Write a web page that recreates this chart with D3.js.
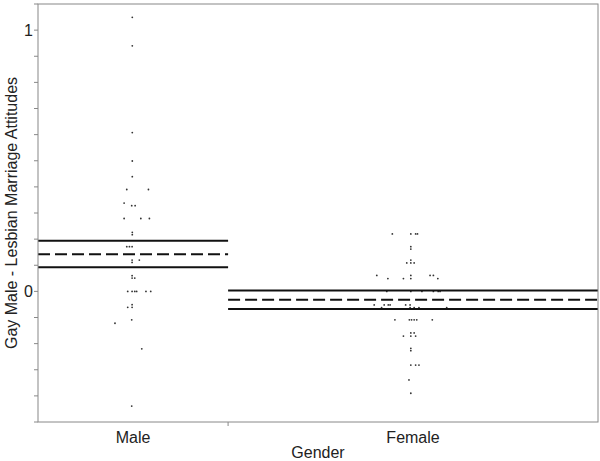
<!DOCTYPE html>
<html>
<head>
<meta charset="utf-8">
<script src="https://cdn.jsdelivr.net/npm/d3@7"></script>
<style>
  body { margin: 0; background: #fff; }
  text { font-family: "Liberation Sans", Arial, sans-serif; fill: #222; }
</style>
</head>
<body>
<div id="chart"></div>
<script>
// Groups and their width weights on the x axis
const groups = ['Male', 'Female'];
const groupWeights = [37, 72];

// Mean and 95% interval per group
const groupMeans = [0.142, -0.032];
const groupUpper = [0.194, 0.003];
const groupLower = [0.092, -0.067];

// Male observations and horizontal jitter (fraction of band)
const maleValues = [1.049, 0.940, 0.608, 0.499, 0.439, 0.390, 0.390, 0.338, 0.328, 0.328,
    0.279, 0.279, 0.279, 0.226, 0.217, 0.171, 0.171, 0.171, 0.120, 0.120, 0.111,
    0.060, 0.051, 0.051, 0, 0, 0, 0, 0, 0, -0.051, -0.061, -0.061, -0.109, -0.122,
    -0.220, -0.439];
const maleJitter = [-0.004, -0.004, -0.004, -0.004, -0.004, -0.033, 0.081, -0.047, -0.007, 0.011,
    -0.047, 0.041, 0.086, -0.004, -0.004, -0.033, -0.019, -0.005, -0.005, 0.033, -0.005,
    -0.005, -0.005, 0.009, -0.028, -0.005, 0.009, 0.019, 0.068, 0.093, -0.005, -0.005, -0.028, -0.007, -0.095,
    0.046, -0.007];

// Female observations and horizontal jitter (fraction of band)
const femaleValues = [0.220, 0.220, 0.220, 0.220, 0.171, 0.162, 0.120, 0.109, 0.109, 0.109,
    0.061, 0.061, 0.061, 0.061, 0.049, 0.049, 0.049, 0.049,
    0, 0, 0, 0, 0, 0,
    -0.052, -0.052, -0.052, -0.052, -0.052, -0.052,
    -0.062, -0.062, -0.062, -0.062, -0.062,
    -0.109, -0.109, -0.109, -0.109, -0.109, -0.109,
    -0.159, -0.159, -0.171, -0.171, -0.171,
    -0.218, -0.227, -0.282, -0.282, -0.282, -0.339, -0.390];
const femaleJitter = [-0.056, -0.006, 0.007, 0.012, -0.006, -0.006, -0.006, -0.017, -0.006, 0.003,
    -0.098, -0.006, 0.046, 0.055, -0.068, -0.026, -0.006, 0.067,
    -0.071, -0.006, 0.024, 0.055, 0.068, 0.073,
    -0.105, -0.078, -0.067, -0.062, -0.020, -0.008,
    -0.085, -0.008, 0.003, 0.016, 0.091,
    -0.049, -0.010, -0.004, 0.003, 0.010, 0.052,
    -0.006, 0.003, -0.026, -0.006, 0.007,
    -0.006, -0.006, -0.006, 0.007, 0.016, -0.011, -0.006];

const yTickValues = [0, 1];

const width = 600, height = 461;
const margin = { top: 4, right: 2, bottom: 39, left: 38 };
const innerW = width - margin.left - margin.right;
const innerH = height - margin.top - margin.bottom;
const fontSize = 16;

const svg = d3.select('#chart').append('svg')
    .attr('width', width)
    .attr('height', height);

const g = svg.append('g')
    .attr('transform', `translate(${margin.left},${margin.top})`);

const y = d3.scaleLinear().domain([-0.5, 1.1]).range([innerH, 0]);

// x axis: bands proportional to group weights
const totalW = d3.sum(groupWeights);
const x = d3.scaleLinear().domain([0, totalW]).range([0, innerW]);
const bands = groups.map((name, i) => {
    const start = d3.sum(groupWeights.slice(0, i));
    return { name, x0: x(start), x1: x(start + groupWeights[i]), i };
});

// y ticks every 0.1
const minorTicks = d3.range(-5, 12).map(k => k / 10).filter(v => v >= -0.5 && v <= 1.1);
g.selectAll('.ytick')
    .data(minorTicks)
    .enter().append('line')
    .attr('x1', -4).attr('x2', 0)
    .attr('y1', d => y(d)).attr('y2', d => y(d))
    .attr('stroke', '#888').attr('stroke-width', 1);

g.selectAll('.ylabel')
    .data(yTickValues)
    .enter().append('text')
    .attr('x', -5)
    .attr('y', d => y(d))
    .attr('dy', '0.35em')
    .attr('text-anchor', 'end')
    .attr('font-size', fontSize)
    .text(d => d);

// divider tick between groups
g.selectAll('.xtick')
    .data(bands.slice(1))
    .enter().append('line')
    .attr('x1', d => d.x0).attr('x2', d => d.x0)
    .attr('y1', innerH).attr('y2', innerH + 4)
    .attr('stroke', '#888');

g.selectAll('.xlabel')
    .data(bands)
    .enter().append('text')
    .attr('x', d => (d.x0 + d.x1) / 2)
    .attr('y', innerH + 21)
    .attr('text-anchor', 'middle')
    .attr('font-size', fontSize)
    .text(d => d.name);

svg.append('text')
    .attr('x', margin.left + innerW / 2)
    .attr('y', height - 3)
    .attr('text-anchor', 'middle')
    .attr('font-size', fontSize)
    .text('Gender');

svg.append('text')
    .attr('transform', `translate(17,${margin.top + innerH / 2}) rotate(-90)`)
    .attr('text-anchor', 'middle')
    .attr('font-size', fontSize)
    .text('Gay Male - Lesbian Marriage Attitudes');

// points
const series = [
    { values: maleValues, jitter: maleJitter },
    { values: femaleValues, jitter: femaleJitter }
];
series.forEach((s, i) => {
    const b = bands[i];
    const bw = b.x1 - b.x0;
    const cx = (b.x0 + b.x1) / 2;
    g.append('g').selectAll('circle')
        .data(s.values.map((v, k) => ({ v, j: s.jitter[k] })))
        .enter().append('circle')
        .attr('cx', d => cx + d.j * bw)
        .attr('cy', d => y(d.v))
        .attr('r', 0.9)
        .attr('fill', '#333');
});

// mean and interval lines
bands.forEach(b => {
    [groupUpper[b.i], groupLower[b.i]].forEach(v => {
        g.append('line')
            .attr('x1', b.x0).attr('x2', b.x1)
            .attr('y1', y(v)).attr('y2', y(v))
            .attr('stroke', '#111').attr('stroke-width', 2);
    });
    g.append('line')
        .attr('x1', b.x0).attr('x2', b.x1)
        .attr('y1', y(groupMeans[b.i])).attr('y2', y(groupMeans[b.i]))
        .attr('stroke', '#111').attr('stroke-width', 2)
        .attr('stroke-dasharray', '12,5');
});

// frame
g.append('rect')
    .attr('x', 0).attr('y', 0)
    .attr('width', innerW).attr('height', innerH)
    .attr('fill', 'none')
    .attr('stroke', '#888').attr('stroke-width', 1);
</script>
</body>
</html>
